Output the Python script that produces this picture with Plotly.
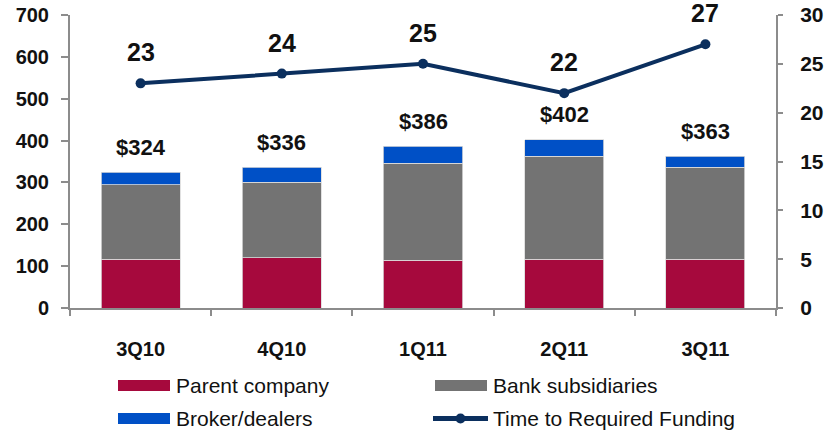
import plotly.graph_objects as go

categories = ["3Q10", "4Q10", "1Q11", "2Q11", "3Q11"]
parent_company = [117, 120, 114, 117, 117]
bank_subsidiaries = [178, 180, 232, 245, 219]
broker_dealers = [29, 36, 40, 40, 27]
totals = [324, 336, 386, 402, 363]
total_labels = ["$324", "$336", "$386", "$402", "$363"]
time_to_funding = [23, 24, 25, 22, 27]

legend_names = ["Parent company", "Bank subsidiaries", "Broker/dealers", "Time to Required Funding"]
colors = {"parent": "#A6093D", "bank": "#737373", "broker": "#0050C6", "line": "#0B2F5E"}

FONT = "Liberation Sans, Arial, sans-serif"

fig = go.Figure()
bar_line = dict(color="#d9d9d9", width=0.8)
fig.add_trace(go.Bar(x=categories, y=parent_company, name=legend_names[0],
                     marker=dict(color=colors["parent"], line=bar_line)))
fig.add_trace(go.Bar(x=categories, y=bank_subsidiaries, name=legend_names[1],
                     marker=dict(color=colors["bank"], line=bar_line)))
fig.add_trace(go.Bar(x=categories, y=broker_dealers, name=legend_names[2],
                     marker=dict(color=colors["broker"], line=bar_line)))
fig.add_trace(go.Scatter(x=categories, y=time_to_funding, name=legend_names[3], yaxis="y2",
                         mode="lines+markers",
                         line=dict(color=colors["line"], width=4),
                         marker=dict(color=colors["line"], size=10)))

annotations = []
for c, t, lab in zip(categories, totals, total_labels):
    annotations.append(dict(x=c, y=t, yref="y", xref="x", text=f"<b>{lab}</b>", showarrow=False,
                            yshift=25, font=dict(family=FONT, size=22, color="#111111")))
for c, v in zip(categories, time_to_funding):
    annotations.append(dict(x=c, y=v, yref="y2", xref="x", text=f"<b>{v}</b>", showarrow=False,
                            yshift=31, font=dict(family=FONT, size=25, color="#111111")))

# custom legend (paper coords: x 0..1 -> 70..776 px, y 0..1 -> 308..15 px)
def px_x(p):
    return (p - 70) / 706.0

def px_y(p):
    return (308 - p) / 293.0

shapes = []
legend_items = [
    (legend_names[0], colors["parent"], 118, 170, 174, 385.5, "bar"),
    (legend_names[1], colors["bank"], 435, 487, 491, 385.5, "bar"),
    (legend_names[2], colors["broker"], 118, 170, 174, 418.5, "bar"),
    (legend_names[3], colors["line"], 433, 488, 491, 418.5, "line"),
]
for name, col, x0, x1, tx, yc, kind in legend_items:
    if kind == "bar":
        shapes.append(dict(type="rect", xref="paper", yref="paper",
                           x0=px_x(x0), x1=px_x(x1), y0=px_y(yc + 5.5), y1=px_y(yc - 5.5),
                           fillcolor=col, line=dict(width=0)))
    else:
        shapes.append(dict(type="line", xref="paper", yref="paper",
                           x0=px_x(x0), x1=px_x(x1), y0=px_y(yc), y1=px_y(yc),
                           line=dict(color=col, width=5)))
        shapes.append(dict(type="circle", xref="paper", yref="paper",
                           x0=px_x((x0 + x1) / 2 - 5), x1=px_x((x0 + x1) / 2 + 5),
                           y0=px_y(yc + 5), y1=px_y(yc - 5),
                           fillcolor=col, line=dict(width=0)))
    annotations.append(dict(x=px_x(tx), y=px_y(yc), xref="paper", yref="paper",
                            xanchor="left", yanchor="middle", text=name, showarrow=False,
                            font=dict(family=FONT, size=21, color="#111111")))

axis_col = "#8C8C8C"
fig.update_layout(
    barmode="stack",
    bargap=0.44,
    width=826, height=432,
    margin=dict(l=70, r=50, t=15, b=124, autoexpand=False),
    plot_bgcolor="white", paper_bgcolor="white",
    showlegend=False,
    font=dict(family=FONT, color="#111111"),
    xaxis=dict(type="category", range=[-0.5, 4.5], showline=True, linecolor=axis_col, linewidth=2,
               ticks="outside", tickson="boundaries", ticklen=6, tickcolor=axis_col, tickwidth=2,
               tickfont=dict(family=FONT, size=20, color="#111111"),
               tickvals=categories, ticktext=[f"<b>{c}</b>" for c in categories],
               ticklabelstandoff=22, showgrid=False, zeroline=False, automargin=False),
    yaxis=dict(range=[0, 700], dtick=100, showline=True, linecolor=axis_col, linewidth=2,
               ticks="outside", ticklen=7, tickcolor=axis_col, tickwidth=2,
               tickfont=dict(family=FONT, size=20, color="#111111", weight="bold"),
               ticklabelstandoff=8, showgrid=False, zeroline=False, automargin=False),
    yaxis2=dict(range=[0, 30], dtick=5, overlaying="y", side="right", showline=True,
                linecolor=axis_col, linewidth=2, ticks="outside", ticklen=5, tickcolor=axis_col,
                tickwidth=2, tickfont=dict(family=FONT, size=21, color="#111111", weight="bold"),
                ticklabelstandoff=13, showgrid=False, zeroline=False, automargin=False),
    annotations=annotations,
    shapes=shapes,
)

fig.write_html("out.html", config={"displayModeBar": False},
               post_script="document.body.style.margin='0';document.body.style.overflow='hidden';")
